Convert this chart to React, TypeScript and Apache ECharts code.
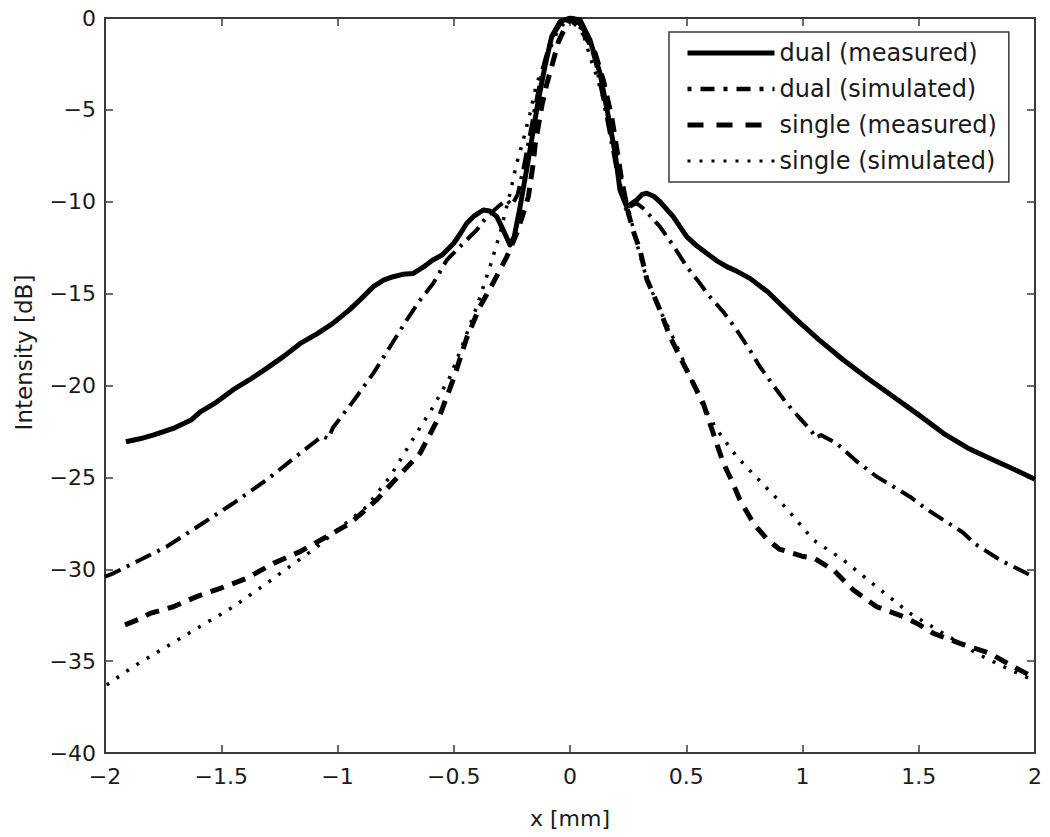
import React, { useEffect, useRef } from "react";
import * as echarts from "echarts";

const seriesNames = ["dual (measured)", "dual (simulated)", "single (measured)", "single (simulated)"];

const xTicks = { min: -2, max: 2, step: 0.5 };
const yTicks = { min: -40, max: 0, step: 5 };

const dualMeasured: [number, number][] = [
  [-1.91, -23.06], [-1.85, -22.9], [-1.79, -22.69], [-1.7, -22.3], [-1.63, -21.88], [-1.59, -21.43],
  [-1.52, -20.9], [-1.45, -20.24], [-1.38, -19.7], [-1.305, -19.07], [-1.23, -18.4], [-1.16, -17.71],
  [-1.09, -17.2], [-1.02, -16.62], [-0.95, -15.9], [-0.9, -15.3], [-0.846, -14.62], [-0.8, -14.25],
  [-0.76, -14.08], [-0.72, -13.95], [-0.674, -13.9], [-0.63, -13.55], [-0.59, -13.17], [-0.55, -12.9],
  [-0.5, -12.26], [-0.47, -11.7], [-0.444, -11.17], [-0.41, -10.75], [-0.373, -10.45], [-0.345, -10.5],
  [-0.315, -10.81], [-0.285, -11.6], [-0.258, -12.35], [-0.24, -11.9], [-0.215, -10.3], [-0.19, -8.5],
  [-0.172, -7.18], [-0.136, -4.46], [-0.108, -2.65], [-0.079, -1.02], [-0.043, -0.2], [0, 0],
  [0.043, -0.1], [0.086, -1.2], [0.129, -3.0], [0.165, -5.37], [0.194, -7.35], [0.215, -9.36],
  [0.244, -10.27], [0.265, -10.1], [0.287, -9.9], [0.31, -9.6], [0.33, -9.54], [0.36, -9.7],
  [0.387, -10.0], [0.443, -10.8], [0.502, -11.9], [0.545, -12.4], [0.588, -12.8], [0.63, -13.2],
  [0.674, -13.53], [0.72, -13.8], [0.774, -14.17], [0.85, -14.9], [0.961, -16.26], [1.07, -17.5],
  [1.176, -18.61], [1.28, -19.6], [1.391, -20.61], [1.5, -21.6], [1.606, -22.6], [1.71, -23.4],
  [1.821, -24.05], [1.9, -24.5], [2.0, -25.1],
];

const dualSimulated: [number, number][] = [
  [-2.0, -30.4], [-1.964, -30.22], [-1.85, -29.5], [-1.735, -28.77], [-1.591, -27.59], [-1.448, -26.41],
  [-1.305, -25.14], [-1.161, -23.69], [-1.065, -22.75], [-1.04, -22.9], [-1.02, -22.3], [-0.932, -20.85],
  [-0.846, -19.34], [-0.774, -17.89], [-0.702, -16.43], [-0.645, -15.35], [-0.588, -14.44], [-0.53, -13.17],
  [-0.459, -12.26], [-0.401, -11.54], [-0.358, -10.81], [-0.301, -10.18], [-0.272, -9.9], [-0.25, -10.2],
  [-0.225, -9.6], [-0.2, -8.2], [-0.17, -6.2], [-0.14, -4.2], [-0.11, -2.4], [-0.08, -1.1], [-0.04, -0.3],
  [0, 0], [0.04, -0.3], [0.08, -1.1], [0.11, -2.4], [0.14, -4.2], [0.17, -6.2], [0.2, -8.2], [0.225, -9.6],
  [0.244, -10.54], [0.265, -10.2], [0.287, -10.09], [0.31, -10.3], [0.34, -10.7], [0.387, -11.36],
  [0.445, -12.4], [0.502, -13.53], [0.55, -14.3], [0.602, -15.17], [0.66, -16.0], [0.717, -16.98],
  [0.77, -18.0], [0.817, -18.98], [0.875, -20.0], [0.932, -20.97], [0.99, -21.8], [1.04, -22.5],
  [1.055, -22.85], [1.08, -22.7], [1.147, -23.15], [1.23, -24.1], [1.319, -24.96], [1.39, -25.5],
  [1.462, -26.05], [1.53, -26.7], [1.606, -27.32], [1.69, -28.0], [1.74, -28.6], [1.85, -29.5],
  [1.964, -30.22], [2.0, -30.45],
];

const singleMeasured: [number, number][] = [
  [-1.914, -33.03], [-1.85, -32.7], [-1.806, -32.4], [-1.706, -32.04], [-1.606, -31.49], [-1.505, -31.04],
  [-1.39, -30.49], [-1.276, -29.68], [-1.161, -29.04], [-1.047, -28.23], [-0.946, -27.5], [-0.832, -26.23],
  [-0.746, -25.05], [-0.645, -23.69], [-0.559, -21.6], [-0.5, -19.6], [-0.444, -17.4], [-0.387, -15.7],
  [-0.33, -14.4], [-0.272, -13.0], [-0.229, -11.72], [-0.2, -10.6], [-0.179, -9.72], [-0.158, -7.9],
  [-0.15, -6.9], [-0.12, -4.7], [-0.1, -3.6], [-0.079, -2.65], [-0.05, -1.3], [-0.02, -0.5], [0.0, -0.05],
  [0.03, -0.4], [0.06, -0.9], [0.085, -1.4], [0.108, -1.9], [0.143, -3.37], [0.179, -5.37], [0.2, -7.0],
  [0.222, -8.8], [0.251, -10.63], [0.275, -11.7], [0.301, -12.63], [0.33, -14.2], [0.387, -15.89],
  [0.43, -17.34], [0.487, -18.79], [0.53, -19.88], [0.573, -20.97], [0.616, -22.6], [0.659, -24.2],
  [0.7, -25.3], [0.731, -26.23], [0.789, -27.5], [0.85, -28.4], [0.9, -28.9], [0.95, -29.1],
  [1.004, -29.31], [1.05, -29.4], [1.133, -30.04], [1.219, -31.13], [1.319, -32.04], [1.434, -32.58],
  [1.5, -33.0], [1.563, -33.49], [1.677, -34.03], [1.806, -34.58], [1.907, -35.3], [1.99, -35.85],
];

const singleSimulated: [number, number][] = [
  [-1.993, -36.3], [-1.878, -35.3], [-1.735, -34.21], [-1.591, -33.12], [-1.448, -32.04], [-1.305, -30.77],
  [-1.2, -29.8], [-1.1, -28.9], [-1.018, -28.04], [-0.875, -26.6], [-0.774, -24.96], [-0.66, -22.6],
  [-0.588, -21.15], [-0.516, -19.52], [-0.459, -17.7], [-0.401, -15.71], [-0.344, -13.53], [-0.301, -11.72],
  [-0.258, -9.54], [-0.229, -7.9], [-0.201, -6.64], [-0.172, -5.19], [-0.143, -3.56], [-0.1, -2.1],
  [-0.05, -0.6], [0, 0], [0.05, -0.6], [0.086, -2.1], [0.115, -3.19], [0.158, -5.0], [0.2, -7.36],
  [0.229, -9.18], [0.244, -10.0], [0.287, -12.26], [0.33, -14.2], [0.387, -15.9], [0.44, -17.3],
  [0.5, -19.0], [0.559, -20.79], [0.631, -22.4], [0.717, -23.87], [0.817, -25.2], [0.932, -26.7],
  [1.047, -28.41], [1.176, -29.5], [1.319, -30.95], [1.462, -32.4], [1.606, -33.49], [1.749, -34.58],
  [1.864, -35.3], [1.99, -36.03],
];

const FONT = "DejaVu Sans";
const AXIS_COLOR = "#3a3a3a";
const TEXT_COLOR = "#1a1a1a";

const fmt = (v: number) => String(v).replace("-", "\u2212");

export default function App() {
  const ref = useRef<HTMLDivElement>(null);
  useEffect(() => {
    if (!ref.current) return;
    const chart = echarts.init(ref.current, undefined, { renderer: "svg" });
    const axisCommon = {
      type: "value" as const,
      axisLine: { show: true, onZero: false, lineStyle: { color: AXIS_COLOR, width: 2 } },
      axisTick: { show: true, inside: true, length: 8, lineStyle: { color: AXIS_COLOR, width: 1.5 } },
      splitLine: { show: false },
    };
    const xAxisBase = { ...axisCommon, min: xTicks.min, max: xTicks.max, interval: xTicks.step };
    const yAxisBase = { ...axisCommon, min: yTicks.min, max: yTicks.max, interval: yTicks.step };
    const labelStyle = { fontFamily: FONT, fontSize: 22, color: TEXT_COLOR };
    const datasets = [dualMeasured, dualSimulated, singleMeasured, singleSimulated];
    const styles: { width: number; type: any }[] = [
      { width: 5, type: "solid" },
      { width: 4, type: [17, 7, 3, 7] },
      { width: 5, type: [14, 9] },
      { width: 3.5, type: [3, 9] },
    ];
    const legendStyles: { width: number; type: any }[] = [
      { width: 5, type: "solid" },
      { width: 4.5, type: [4, 9, 14, 9] },
      { width: 5, type: [16, 13] },
      { width: 3, type: [3, 9] },
    ];
    chart.setOption({
      animation: false,
      backgroundColor: "#ffffff",
      grid: { left: 105, right: 15, top: 18, bottom: 84, containLabel: false },
      xAxis: [
        {
          ...xAxisBase,
          position: "bottom",
          axisLabel: { ...labelStyle, margin: 12, formatter: fmt },
          name: "x [mm]",
          nameLocation: "middle",
          nameGap: 54,
          nameTextStyle: { fontFamily: FONT, fontSize: 22, color: TEXT_COLOR },
        },
        { ...xAxisBase, position: "top", axisLabel: { show: false } },
      ],
      yAxis: [
        {
          ...yAxisBase,
          position: "left",
          axisLabel: { ...labelStyle, margin: 9, formatter: fmt },
          name: "Intensity [dB]",
          nameLocation: "middle",
          nameGap: 70,
          nameTextStyle: { fontFamily: FONT, fontSize: 23, color: TEXT_COLOR, padding: [0, 0, 0, 66] },
        },
        { ...yAxisBase, position: "right", axisLabel: { show: false } },
      ],
      legend: {
        data: seriesNames.map((n, i) => ({
          name: n,
          itemStyle: { opacity: 0 },
          lineStyle: { color: "#000000", width: legendStyles[i].width, type: legendStyles[i].type, cap: "butt" },
        })),
        orient: "vertical",
        left: 669,
        top: 32,
        itemWidth: 87,
        itemHeight: 14,
        itemGap: 12,
        padding: [9, 12, 9, 16],
        backgroundColor: "#ffffff",
        borderColor: AXIS_COLOR,
        borderWidth: 1.5,
        textStyle: { fontFamily: FONT, fontSize: 24, color: TEXT_COLOR },
      },
      series: datasets.map((d, i) => ({
        name: seriesNames[i],
        type: "line",
        data: d,
        xAxisIndex: 0,
        yAxisIndex: 0,
        symbol: "none",
        smooth: false,
        clip: true,
        itemStyle: { color: "#000000" },
        lineStyle: { color: "#000000", width: styles[i].width, type: styles[i].type, cap: "butt", join: "round" },
        z: 4 - i,
      })),
    });
    return () => chart.dispose();
  }, []);
  return <div ref={ref} style={{ position: "absolute", left: 0, top: 0, width: 1050, height: 837 }} />;
}
